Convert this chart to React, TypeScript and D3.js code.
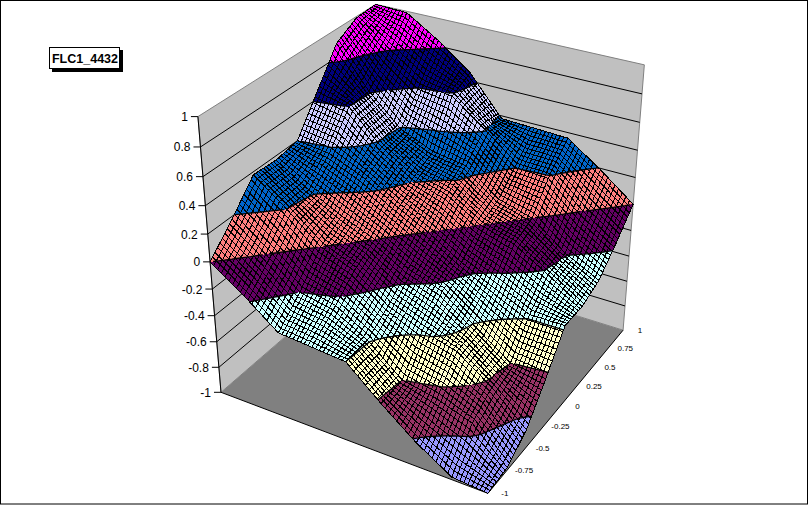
import React from 'react';
import * as d3 from 'd3';

const anchors: number[][] = [
[0,0,-1,487,492],[1,0,-1,624,330],[0,1,-1,222,394],[1,1,-1,379,252],[0,1,1,198,116],[1,0,1,644,63],[1,1,1,376,6],
[0,1,.8,200,146],[0,1,.6,203,176],[0,1,.4,205,206],[0,1,.2,208,234],[0,1,0,211,261],[0,1,-.2,212,290],[0,1,-.4,214,316],[0,1,-.6,217,343],[0,1,-.8,219,367],
[1,0,.8,643,94],[1,0,.6,640,123],[1,0,.4,637,151],[1,0,.2,635,177],[1,0,0,633,204],[1,0,-.2,630,232],[1,0,-.4,629,255],[1,0,-.6,628,282],[1,0,-.8,625,307]];

function solve(A:number[][],b:number[]){const n=b.length;const M=A.map((r,i)=>[...r,b[i]]);
 for(let i=0;i<n;i++){let p=i;for(let k=i+1;k<n;k++)if(Math.abs(M[k][i])>Math.abs(M[p][i]))p=k;[M[i],M[p]]=[M[p],M[i]];
  for(let k=i+1;k<n;k++){const f=M[k][i]/M[i][i];if(f)for(let j=i;j<=n;j++)M[k][j]-=f*M[i][j];}}
 const x=new Array(n).fill(0);for(let i=n-1;i>=0;i--){let v=M[i][n];for(let j=i+1;j<n;j++)v-=M[i][j]*x[j];x[i]=v/M[i][i];}return x;}
function lsq(rows:number[][],rhs:number[],n:number){const A=Array.from({length:n},()=>new Array(n).fill(0));const b=new Array(n).fill(0);
 rows.forEach((r,k)=>{for(let i=0;i<n;i++){if(!r[i])continue;b[i]+=r[i]*rhs[k];for(let j=0;j<n;j++)A[i][j]+=r[i]*r[j];}});return solve(A,b);}

const dr:number[][]=[],dv:number[]=[];
anchors.forEach(([s,t,z,x,y])=>{dr.push([s,t,z,1,0,0,0,0,-x*s,-x*t,-x*z]);dv.push(x);dr.push([0,0,0,0,s,t,z,1,-y*s,-y*t,-y*z]);dv.push(y);});
const P=lsq(dr,dv,11);
const proj=(s:number,t:number,z:number):[number,number]=>{const w=P[8]*s+P[9]*t+P[10]*z+1;return [(P[0]*s+P[1]*t+P[2]*z+P[3])/w,(P[4]*s+P[5]*t+P[6]*z+P[7])/w];};

// output of the surface: one array per value of the second input, -1 ... 1 in steps of 0.25
const yM100=[-1.00,-.98,-.82,-.62,-.40,-.38,-.36,-.17,0];
const yM075=[-.98,-.74,-.65,-.60,-.39,-.25,-.20,0,.18];
const yM050=[-.86,-.63,-.45,-.38,-.28,-.10,0,.20,.38];
const yM025=[-.63,-.60,-.42,-.23,-.14,0,.10,.22,.37];
const y000=[-.38,-.38,-.27,-.15,0,.13,.27,.37,.40];
const yP025=[-.38,-.22,-.07,0,.15,.22,.37,.60,.65];
const yP050=[-.32,-.19,0,.07,.25,.29,.39,.61,.90];
const yP075=[-.17,0,.21,.22,.41,.59,.62,.78,.99];
const yP100=[0,.19,.36,.37,.38,.66,.84,.99,1.00];
const grid=[yM100,yM075,yM050,yM025,y000,yP025,yP050,yP075,yP100];
const K=grid.length;

const zAt=(s:number,t:number)=>{const a=Math.min(K-2,Math.floor(s*(K-1))),b=Math.min(K-2,Math.floor(t*(K-1)));const u=s*(K-1)-a,v=t*(K-1)-b;
 return grid[a][b]*(1-u)*(1-v)+grid[a+1][b]*u*(1-v)+grid[a][b+1]*(1-u)*v+grid[a+1][b+1]*u*v;};

const bandColors=['#9999FF','#993366','#FFFFCC','#CCFFFF','#660066','#FF8080','#0066CC','#CCCCFF','#000080','#FF00FF'];
const N=72;
type V=[number,number,number];
function clip(poly:V[],lo:number,hi:number){const cl=(p:V[],f:(z:number)=>boolean,lim:number)=>{const o:V[]=[];p.forEach((a,i)=>{const b=p[(i+1)%p.length];if(f(a[2]))o.push(a);if(f(a[2])!==f(b[2])){const u=(lim-a[2])/(b[2]-a[2]);o.push([a[0]+u*(b[0]-a[0]),a[1]+u*(b[1]-a[1]),lim]);}});return o;};
 let o=cl(poly,z=>z>=lo,lo);if(o.length)o=cl(o,z=>z<=hi,hi);return o;}
const bandPaths=bandColors.map(()=>d3.path());const contourPath=d3.path();const meshPath=d3.path();
for(let i=0;i<N;i++)for(let j=0;j<N;j++){
 const c=(a:number,b:number):V=>[a/N,b/N,zAt(a/N,b/N)];
 const tris=[[c(i,j),c(i+1,j),c(i+1,j+1)],[c(i,j),c(i+1,j+1),c(i,j+1)]];
 tris.forEach(tri=>{bandColors.forEach((_,k)=>{const lo=-1+k*.2-(k==0?.5:0),hi=-1+(k+1)*.2+(k==9?.5:0);
  const o=clip(tri,lo,hi);if(o.length<3)return;const pth=bandPaths[k];o.forEach((v,n)=>{const [x,y]=proj(v[0],v[1],v[2]);n?pth.lineTo(x,y):pth.moveTo(x,y);});pth.closePath();});
  d3.range(-.8,.81,.2).forEach(l0=>{const l=Math.round(l0*10)/10;const pts:number[][]=[];tri.forEach((a,n)=>{const b=tri[(n+1)%3];if((a[2]-l)*(b[2]-l)<0){const u=(l-a[2])/(b[2]-a[2]);pts.push(proj(a[0]+u*(b[0]-a[0]),a[1]+u*(b[1]-a[1]),l));}});
   if(pts.length===2){contourPath.moveTo(pts[0][0],pts[0][1]);contourPath.lineTo(pts[1][0],pts[1][1]);}});
 });
}
for(let i=0;i<=N;i++){for(let j=0;j<=N;j++){const [x,y]=proj(i/N,j/N,zAt(i/N,j/N));j?meshPath.lineTo(x,y):meshPath.moveTo(x,y);}
 for(let j=0;j<=N;j++){const [x,y]=proj(j/N,i/N,zAt(j/N,i/N));j?meshPath.lineTo(x,y):meshPath.moveTo(x,y);}}
const poly=(p:[number,number,number][])=>p.map(q=>proj(q[0],q[1],q[2]).join(',')).join(' ');
const zTicks=[1,.8,.6,.4,.2,0,-.2,-.4,-.6,-.8,-1];
const sTicks=[-1,-.75,-.5,-.25,0,.25,.5,.75,1];
export default function App(){
 return <svg width={808} height={505} style={{position:'fixed',left:0,top:0,background:'#fff'}}>
  <rect x={.5} y={.5} width={807} height={503.5} fill="#fff" stroke="#000"/>
  <polygon points={poly([[0,1,-1],[1,1,-1],[1,0,-1],[0,0,-1]])} fill="#808080"/>
  <polygon points={poly([[0,1,-1],[1,1,-1],[1,1,1],[0,1,1]])} fill="#C0C0C0" stroke="#808080"/>
  <polygon points={poly([[1,0,-1],[1,1,-1],[1,1,1],[1,0,1]])} fill="#C0C0C0" stroke="#808080"/>
  {zTicks.slice(1,-1).map(z=><polyline key={z} points={poly([[0,1,z],[1,1,z],[1,0,z]])} fill="none" stroke="#000"/>)}
  <polyline points={poly([[0,1,1],[0,1,-1],[0,0,-1],[1,0,-1]])} fill="none" stroke="#000"/>
  {zTicks.map(z=>{const [x,y]=proj(0,1,z);return <g key={z}><line x1={x-7} x2={x} y1={y} y2={y} stroke="#000"/><text x={x-10} y={y+4.5} textAnchor="end" fontFamily="Liberation Sans" fontSize={12}>{z}</text></g>;})}
  {sTicks.map(v=>{const [x,y]=proj((v+1)/2,0,-1);return <text key={v} x={x+17} y={y+3} textAnchor="middle" fontFamily="Liberation Sans" fontSize={8}>{v}</text>;})}
  {bandColors.map((c,k)=><path key={k} d={bandPaths[k].toString()} fill={c} shapeRendering="crispEdges"/>)}
  <path d={meshPath.toString()} fill="none" stroke="#000" strokeWidth={1} shapeRendering="crispEdges"/>
  <path d={contourPath.toString()} fill="none" stroke="#000" strokeWidth={1.3}/>
  <rect x={52} y={50} width={71} height={22} fill="#000"/>
  <rect x={49.5} y={47.5} width={70} height={21} fill="#fff" stroke="#000"/>
  <text x={85} y={63} textAnchor="middle" fontFamily="Liberation Sans" fontWeight="bold" fontSize={12.5}>FLC1_4432</text>
 </svg>;
}
